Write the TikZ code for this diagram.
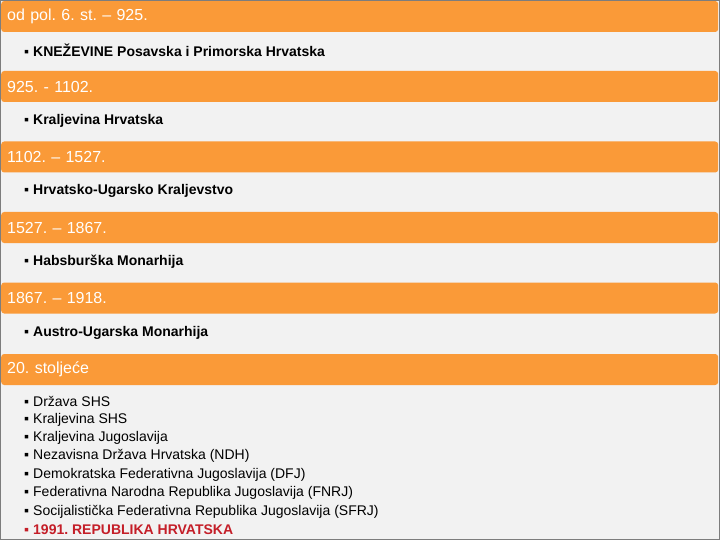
\documentclass[tikz,border=0pt]{standalone}
\usepackage{fontspec}
\setmainfont{Liberation Sans}
\frenchspacing
\definecolor{barorange}{RGB}{250,154,56}
\definecolor{pagegray}{RGB}{242,242,242}
\definecolor{framegray}{RGB}{125,125,125}
\definecolor{hrred}{RGB}{196,30,40}
\newcommand{\blt}{\makebox[9pt][l]{▪}}

\begin{document}
\begin{tikzpicture}[x=1pt,y=-1pt,
    period/.style={fill=barorange, rounded corners=3pt, anchor=west,
      minimum height=31pt, text width=705pt, inner xsep=6pt, inner ysep=0pt,
      align=left, text=white, font=\fontsize{16}{19}\selectfont},
    state/.style={anchor=west, inner sep=0pt, font=\fontsize{14}{17}\selectfont\bfseries},
    item/.style={anchor=west, inner sep=0pt, font=\fontsize{14}{17}\selectfont}]
    \useasboundingbox (0,0) rectangle (720,540);
    \fill[pagegray] (0,0) rectangle (720,540);

    % razdoblja
    \node[period] (p1) at (1,16.5)  {od pol. 6. st. – 925.};
    \node[period] (p2) at (1,86.5)  {925. - 1102.};
    \node[period] (p3) at (1,157)   {1102. – 1527.};
    \node[period] (p4) at (1,227.5) {1527. – 1867.};
    \node[period] (p5) at (1,298)   {1867. – 1918.};
    \node[period] (p6) at (1,369.5) {20. stoljeće};

    % drzave
    \node[state] (s1) at (24,50)  {\blt KNEŽEVINE Posavska i Primorska Hrvatska};
    \node[state] (s2) at (24,121) {\blt Kraljevina Hrvatska};
    \node[state] (s3) at (24,191) {\blt Hrvatsko-Ugarsko Kraljevstvo};
    \node[state] (s4) at (24,262) {\blt Habsburška Monarhija};
    \node[state] (s5) at (24,333) {\blt Austro-Ugarska Monarhija};

    \foreach \t [count=\i] in {Država SHS, Kraljevina SHS, Kraljevina Jugoslavija,
        Nezavisna Država Hrvatska (NDH), Demokratska Federativna Jugoslavija (DFJ),
        Federativna Narodna Republika Jugoslavija (FNRJ),
        Socijalistička Federativna Republika Jugoslavija (SFRJ)}
      \node[item] (t\i) at (24,{401+18.4*(\i-1)}) {\blt\t};
    \node[state, text=hrred] (t8) at (24,530) {\blt 1991. REPUBLIKA HRVATSKA};

    \draw[framegray] (0.5,0.5) rectangle (719.5,539.5);
\end{tikzpicture}
\end{document}
